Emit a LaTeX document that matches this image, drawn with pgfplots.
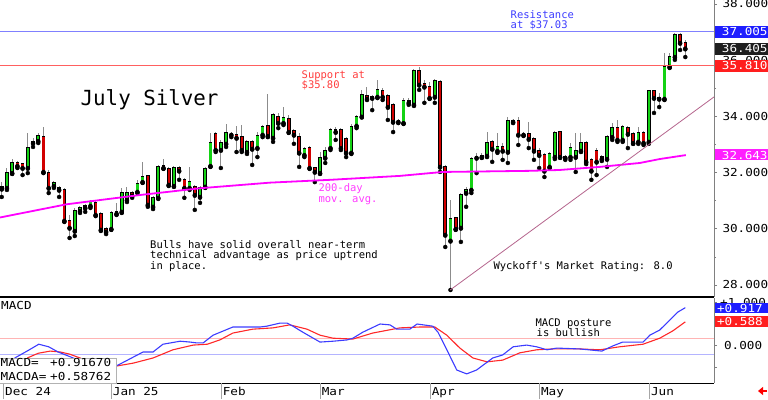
\documentclass[border=0pt]{standalone}
\usepackage{pgfplots}
\pgfplotsset{compat=1.18}
\usepackage{pgfplotstable}
\usepackage{fontspec}
\usetikzlibrary{arrows.meta}
\setmainfont{DejaVu Sans}
\newfontfamily\monofont{DejaVu Sans Mono}
\newfontfamily\axisfontfam[FakeStretch=1.15]{DejaVu Sans Mono}
\newcommand\af{\axisfontfam\fontsize{11}{12}\selectfont}
\newcommand\tf{\monofont\fontsize{10.5}{10.5}\selectfont}

\definecolor{cgreen}{HTML}{14D214}
\definecolor{cred}{HTML}{D20000}
\definecolor{cwick}{HTML}{8C8C8C}
\definecolor{cmag}{HTML}{FF00FF}
\definecolor{levblue}{RGB}{128,128,255}
\definecolor{levred}{RGB}{255,96,96}
\definecolor{restext}{HTML}{3C3CFF}
\definecolor{suptext}{HTML}{FF3C3C}
\definecolor{matext}{HTML}{FF3CFF}
\definecolor{trend}{HTML}{B4648C}
\definecolor{mblue}{HTML}{3C3CFF}
\definecolor{mred}{HTML}{FF2828}
\definecolor{refpink}{HTML}{FFB4B4}
\definecolor{refblue}{HTML}{B4B4FF}
\definecolor{boxblue}{HTML}{1E1EFF}
\definecolor{boxred}{HTML}{FF1E1E}
\definecolor{boxmag}{HTML}{FF1EFF}
\definecolor{boxblack}{HTML}{1E1E1E}

% up days (close >= open)
\pgfplotstableread{
i O H L C
1 31.45 32.16 31.38 31.98
2 31.98 32.48 31.95 32.34
5 32.16 33.41 31.98 32.87
7 33.12 33.41 33.05 33.30
10 31.52 31.70 31.45 31.63
14 29.92 30.74 29.74 30.63
15 30.63 30.81 30.56 30.74
17 30.81 31.02 30.74 30.95
21 29.99 30.63 29.96 30.56
22 30.53 30.92 30.49 30.60
23 30.60 31.45 30.56 31.27
24 31.02 31.49 30.95 31.27
26 31.31 31.74 31.27 31.59
27 31.66 32.38 31.63 31.84
29 30.78 31.17 30.70 31.10
30 31.10 32.27 31.06 32.20
33 31.52 32.23 31.49 32.16
36 31.45 32.20 31.38 31.66
38 31.13 31.52 30.92 31.45
39 31.49 32.20 31.45 32.13
40 32.23 33.41 32.20 33.05
42 32.80 33.16 32.16 33.05
43 33.02 33.73 32.91 33.41
47 32.73 33.16 32.66 33.09
49 32.87 33.44 32.55 33.30
50 33.34 33.69 33.26 33.62
52 33.23 34.12 33.09 34.05
54 33.76 34.33 33.69 33.94
58 32.62 32.91 32.55 32.84
61 31.98 32.73 31.95 32.52
62 32.52 32.91 32.34 32.77
63 32.87 33.58 32.80 33.51
67 32.70 33.73 32.66 33.62
68 33.66 34.05 33.58 33.98
69 33.98 34.94 33.98 34.76
71 34.65 34.76 34.22 34.69
72 34.69 35.29 34.65 34.94
77 33.76 34.65 33.73 34.55
79 34.41 35.69 34.37 35.61
83 34.69 35.33 34.48 35.26
86 29.57 31.02 27.82 30.35
88 30.03 31.27 29.53 31.20
89 31.27 31.49 30.78 31.38
90 31.38 32.55 31.27 32.48
91 32.52 32.70 31.98 32.55
92 32.55 32.70 32.52 32.59
93 32.59 33.44 32.55 33.05
95 32.77 33.41 32.70 32.91
97 32.73 33.98 32.34 33.84
100 33.34 33.44 33.30 33.37
105 32.20 32.73 32.16 32.66
106 32.55 33.48 32.48 33.41
108 32.52 32.62 32.45 32.55
109 32.55 33.05 32.45 32.87
110 32.55 33.41 32.02 32.77
111 32.77 33.41 32.73 33.05
116 32.48 33.34 32.20 33.26
117 33.26 33.76 33.16 33.58
119 33.16 33.69 33.09 33.62
122 33.09 33.62 33.02 33.41
124 33.09 34.94 33.02 34.90
127 34.62 36.26 34.58 35.76
128 35.76 36.26 35.72 36.11
129 36.11 36.97 36.01 36.90
}\up

% down days (close < open)
\pgfplotstableread{
i O H L C
0 31.49 31.66 31.13 31.42
3 32.34 32.41 32.16 32.23
4 32.30 32.34 31.91 32.16
6 33.09 33.23 32.91 33.05
8 33.26 33.62 31.98 32.02
9 31.98 32.09 31.27 31.45
11 31.45 31.52 31.13 31.38
12 31.38 31.45 30.24 30.28
13 30.28 30.49 29.67 30.03
16 30.81 30.88 30.60 30.74
18 30.92 30.99 30.45 30.49
19 30.53 30.60 29.92 29.96
20 29.99 30.06 29.81 29.89
25 31.27 31.34 31.10 31.17
28 31.88 31.91 30.78 30.85
31 32.23 32.48 32.13 32.16
32 32.13 32.20 31.52 31.56
34 32.16 32.23 31.74 32.06
35 31.74 31.81 31.10 31.45
37 31.49 31.56 30.67 31.20
41 33.37 33.44 32.73 32.80
44 33.37 33.44 33.26 33.34
45 33.34 33.66 32.73 33.23
46 33.26 33.69 32.73 32.80
48 33.09 33.16 32.27 32.84
51 33.66 34.80 33.26 33.30
53 33.98 34.12 33.58 33.76
55 33.91 34.05 33.41 33.44
56 33.48 33.55 33.02 33.34
57 33.26 33.41 32.20 32.70
59 32.87 32.94 32.13 32.16
60 32.16 32.20 31.66 32.02
64 33.51 33.62 33.16 33.44
65 33.51 33.58 32.80 32.87
66 33.19 33.26 32.55 32.70
70 34.73 35.05 34.58 34.62
73 34.90 35.01 34.58 34.69
74 34.73 34.80 33.87 34.33
75 34.41 34.48 33.44 33.80
76 33.84 33.91 33.76 33.80
78 34.55 34.65 34.41 34.48
80 35.61 35.76 34.94 35.12
81 35.15 35.29 34.48 35.05
82 35.05 35.22 34.62 34.65
84 35.22 35.29 32.02 32.20
85 32.20 32.27 29.35 29.78
87 30.38 30.42 29.96 29.99
94 33.09 33.16 32.38 32.84
96 32.91 33.05 32.45 32.77
98 33.84 33.91 33.76 33.80
99 33.84 33.98 32.98 33.34
101 33.37 33.80 32.87 33.19
102 33.19 33.26 32.45 32.77
103 32.77 32.87 32.16 32.62
104 32.62 32.70 31.84 32.06
107 33.44 33.48 32.52 32.55
112 33.05 33.12 32.30 32.38
113 32.45 32.52 31.74 32.06
114 32.77 32.87 31.91 32.38
115 32.55 32.62 32.41 32.48
118 33.58 33.87 33.09 33.16
120 33.58 33.66 32.87 33.37
121 33.37 33.44 33.02 33.05
123 33.41 33.48 32.98 33.05
125 34.90 34.94 34.12 34.65
126 34.65 34.83 34.33 34.62
130 36.90 36.97 36.36 36.61
131 36.61 36.72 36.11 36.41
}\down

\pgfplotsset{
  wick/.style={only marks, mark=none, forget plot, error bars/.cd, y dir=plus, y explicit, error mark=none, error bar style={cwick, line width=1pt}},
  bodyedge/.style={only marks, mark=none, forget plot, error bars/.cd, y dir=plus, y explicit, error mark=none, error bar style={black, line width=3.6pt}},
  bodyfill/.style={only marks, mark=none, forget plot, error bars/.cd, y dir=plus, y explicit, error mark=none, error bar style={#1, line width=2.3pt}},
  pricebox/.style={at={(0pt,102pt)}, anchor=south west, scale only axis,
    width=714pt, height=297pt, xmin=-0.33, xmax=136.5, ymin=27.57, ymax=38.14},
}

\begin{document}
\begin{tikzpicture}[x=1pt,y=1pt, t/.style={anchor=base west, inner sep=0pt}]
\path[use as bounding box] (0,0) rectangle (768,399);

% ---------------- main price panel: candles ----------------
\begin{axis}[pricebox, hide axis]
\addplot[wick] table[x=i, y=L, y error plus expr=\thisrow{H}-\thisrow{L}] {\up};
\addplot[wick] table[x=i, y=L, y error plus expr=\thisrow{H}-\thisrow{L}] {\down};
\addplot[bodyedge] table[x=i, y expr=\thisrow{O}-0.025, y error plus expr=\thisrow{C}-\thisrow{O}+0.05] {\up};
\addplot[bodyfill=cgreen] table[x=i, y=O, y error plus expr=\thisrow{C}-\thisrow{O}] {\up};
\addplot[bodyedge] table[x=i, y expr=\thisrow{C}-0.025, y error plus expr=\thisrow{O}-\thisrow{C}+0.05] {\down};
\addplot[bodyfill=cred] table[x=i, y=C, y error plus expr=\thisrow{O}-\thisrow{C}] {\down};
\end{axis}

% ---------------- main price panel: axis, MA, trend ----------------
\begin{axis}[pricebox,
  axis x line*=bottom, axis y line*=right,
  x axis line style={draw=none},
  y axis line style={line width=0.8pt, gray},
  xtick=\empty,
  ytick={28,30,32,34,36,38}, minor ytick={29,31,33,35,37},
  tick align=outside, major tick length=3pt, minor tick length=2pt,
  ytick style={gray, line width=0.6pt},
  /pgf/number format/assume math mode=true,
  yticklabel={\pgfmathprintnumber[fixed,fixed zerofill,precision=3]{\tick}},
  yticklabel style={font=\af, anchor=west, text width=48pt, align=right, inner sep=0pt, xshift=3pt},
]
% 200-day moving average
\addplot[color=cmag, line width=1.8pt] coordinates {
(-0.33,30.40) (12.45,30.87) (26.5,31.20) (38.0,31.44) (51.4,31.64) (62.9,31.74)
(76.3,31.88) (84.5,32.02) (101.2,32.06) (106.9,32.09) (114.6,32.20) (122.3,32.34)
(126.1,32.48) (131.1,32.62)};
% uptrend line
\addplot[color=trend, line width=0.8pt] coordinates {(85.94,27.82) (136.5,34.69)};
\end{axis}

% ---------------- MACD panel ----------------
\begin{axis}[
  at={(0pt,16pt)}, anchor=south west, scale only axis,
  width=714pt, height=85pt,
  xmin=-0.33, xmax=136.5, ymin=-0.872, ymax=1.105,
  axis x line*=bottom, axis y line*=right,
  x axis line style={line width=0.8pt},
  y axis line style={line width=0.8pt, gray},
  xtick={0.31,20.94,42.01,60.98,82.05,102.99,124.07},
  xticklabels={Dec 24,Jan 25,Feb,Mar,Apr,May,Jun},
  xtick style={draw=none},
  xticklabel style={font=\af, anchor=north west, inner sep=0pt, xshift=1.7pt, yshift=-1pt},
  ytick={-0.5,0,0.5,1}, yticklabels={{},{0.000},{},{+1.000}},
  tick align=outside, major tick length=3pt,
  ytick style={gray, line width=0.6pt},
  yticklabel style={font=\af, anchor=west, text width=42pt, align=right, inner sep=0pt, xshift=3pt},
]
\addplot[color=refpink, line width=0.8pt] coordinates {(-0.33,0.174) (136.5,0.174)};
\addplot[color=refblue, line width=0.8pt] coordinates {(-0.33,-0.198) (136.5,-0.198)};
\addplot[color=mred, line width=1.1pt] coordinates {
(4.9,-0.29) (7,-0.18) (9.3,-0.13) (11.2,-0.15) (13,-0.20) (15,-0.29) (18.8,-0.48)
(21.9,-0.48) (25.2,-0.41) (29,-0.29) (32.8,-0.10) (36.7,0.01) (39.4,0.03) (41.8,0.13)
(44.3,0.29) (48.1,0.38) (52,0.41) (55.2,0.48) (58.5,0.38) (61,0.24) (63.5,0.17)
(67.3,0.15) (71.1,0.29) (75,0.38) (76.3,0.41) (80.1,0.43) (83,0.43) (85.3,0.24)
(87.8,-0.06) (90.3,-0.29) (93,-0.38) (96,-0.34) (99.3,-0.17) (102.5,-0.10)
(105.6,-0.08) (110.8,-0.08) (114.6,-0.10) (118.4,-0.03) (122.9,0.03) (126.1,0.17)
(128.6,0.34) (131,0.55)};
\addplot[color=mblue, line width=1.1pt] coordinates {
(2.5,-0.29) (5,-0.12) (7.1,0.03) (9,-0.03) (10.8,-0.15) (13.7,-0.29) (17.9,-0.52)
(21.9,-0.48) (27.1,-0.15) (29,-0.15) (30.9,0.03) (34.2,0.10) (36.1,0.08) (37.4,0.06)
(38.6,0.06) (40.5,0.24) (44.3,0.43) (47,0.43) (49.5,0.43) (50.8,0.45) (53.3,0.52)
(54.7,0.52) (55.8,0.45) (57.7,0.31) (61,0.08) (63.5,0.10) (66.2,0.13) (67.3,0.17)
(69.2,0.31) (72.5,0.50) (74.4,0.48) (75.7,0.38) (78.2,0.38) (79.6,0.50) (82.6,0.45)
(83.6,0.31) (85.3,-0.10) (87.2,-0.57) (89.1,-0.66) (91,-0.57) (94.1,-0.29) (96,-0.22)
(98,-0.03) (100.6,0.01) (102.5,-0.03) (104.5,-0.10) (106.4,-0.06) (110.8,-0.08)
(115,-0.13) (117.1,-0.01) (119,0.08) (122.9,0.08) (124.2,0.24) (126.1,0.36)
(128,0.59) (129.6,0.78) (131,0.88)};
\end{axis}

% panel separator line and resistance / support levels (37.03 and 35.80)
\draw[black, line width=1.6pt] (0,102) -- (714,102);
\draw[levblue, line width=1pt] (0,367.8) -- (714,367.8);
\draw[levred, line width=1pt] (0,333.3) -- (714,333.3);

% date strip tick lines
\foreach \xx in {3.3,111,221,320,430,539.3,649.3} \draw[gray!70, line width=0.7pt] (\xx,0) -- (\xx,16);

% right-hand value boxes (main)
\node[fill=boxblue, text=white, font=\af, anchor=north west, minimum width=54pt, minimum height=11.5pt, inner sep=0pt, text width=52pt, align=right] at (714.4,373) {37.005};
\node[fill=boxblack, text=white, font=\af, anchor=north west, minimum width=54pt, minimum height=12pt, inner sep=0pt, text width=52pt, align=right] at (714.4,356.3) {36.405};
\node[fill=boxred, text=white, font=\af, anchor=north west, minimum width=54pt, minimum height=11.5pt, inner sep=0pt, text width=52pt, align=right] at (714.4,339) {35.810};
\node[fill=boxmag, text=white, font=\af, anchor=north west, minimum width=54pt, minimum height=11pt, inner sep=0pt, text width=52pt, align=right] at (714.4,249.7) {32.643};
% right-hand value boxes (MACD)
\node[fill=boxblue, text=white, font=\af, anchor=north west, minimum width=54pt, minimum height=10.5pt, inner sep=0pt, text width=52pt, align=left] at (714.4,96.3) {\hspace*{1.5pt}+0.917};
\node[fill=boxred, text=white, font=\af, anchor=north west, minimum width=54pt, minimum height=11pt, inner sep=0pt, text width=52pt, align=left] at (714.4,83) {\hspace*{1.5pt}+0.588};

% annotations
\node[t, text=restext, font=\tf] at (510.5,380.7) {Resistance};
\node[t, text=restext, font=\tf] at (510.5,370.3) {at \$37.03};
\node[t, text=suptext, font=\tf] at (301.5,320.7) {Support at};
\node[t, text=suptext, font=\tf] at (301.5,310.7) {\$35.80};
\node[t, text=matext, font=\tf] at (318.3,207) {200-day};
\node[t, text=matext, font=\tf] at (318.3,196.7) {mov. avg.};
\node[t, font=\tf] at (150,150.7) {Bulls have solid overall near-term};
\node[t, font=\tf] at (150,140) {technical advantage as price uptrend};
\node[t, font=\tf] at (150,129.7) {in place.};
\node[t, font=\tf] at (493.3,129) {Wyckoff's Market Rating: 8.0};
\node[t, font=\tf] at (535.3,72.3) {MACD posture};
\node[t, font=\tf] at (536.5,62.3) {is bullish};
\node[t, font=\monofont\fontsize{20.8}{21}\selectfont] at (80.5,293.5) {July Silver};
\node[t, font=\af] at (1,89) {MACD};

% MACD readout box
\draw[gray!60, fill=white, line width=0.8pt] (-1,16) rectangle (116,41);
\node[t, font=\af] at (0.5,32.3) {MACD=};
\node[t, font=\af] at (50,32.3) {+0.91670};
\node[t, font=\af] at (0.5,19) {MACDA=};
\node[t, font=\af] at (50,19) {+0.58762};

% small red arrow bottom right
\draw[red, line width=2.2pt, -{Triangle[length=5pt,width=8pt]}] (767,8) -- (758,8);
\end{tikzpicture}
\end{document}
